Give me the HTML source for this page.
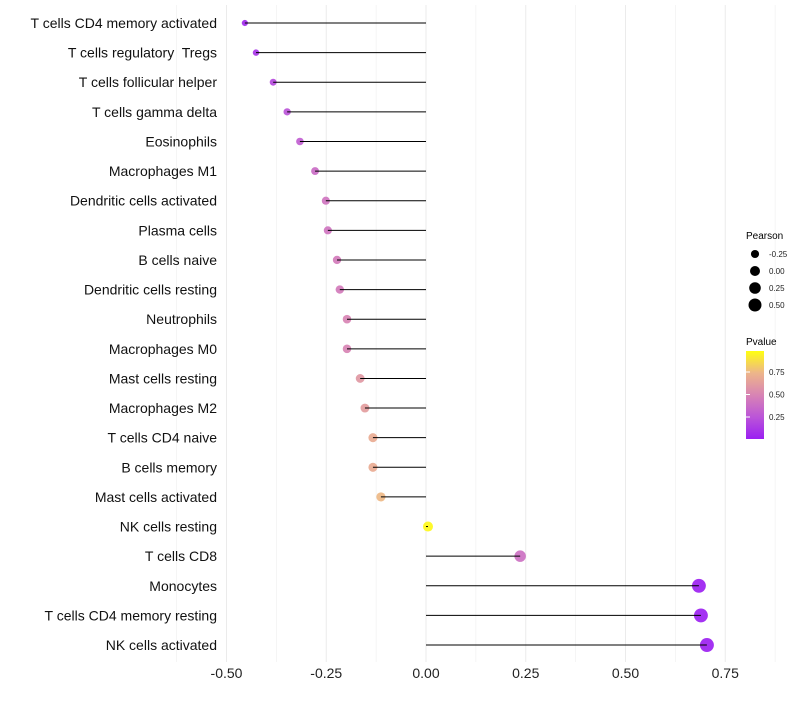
<!DOCTYPE html>
<html><head><meta charset="utf-8"><style>
body{margin:0;background:#fff;font-family:"Liberation Sans",sans-serif}
text{white-space:pre}
</style></head><body>
<svg id="chart" width="800" height="700" xmlns="http://www.w3.org/2000/svg" font-family="Liberation Sans, sans-serif">
<defs><linearGradient id="pg" x1="0" y1="1" x2="0" y2="0">
<stop offset="0" stop-color="#9B1FF2"/><stop offset="0.25" stop-color="#BB55D8"/><stop offset="0.5" stop-color="#D884B4"/><stop offset="0.75" stop-color="#EDB58A"/><stop offset="1" stop-color="#FFFF10"/></linearGradient></defs>
<g id="grid"></g><g id="dots"></g><g id="marks"></g><g id="axes"></g>
<g>
<text x="746" y="239" font-size="10">Pearson</text>
<text x="746" y="345" font-size="10">Pvalue</text>
<rect x="746" y="351" width="18" height="88" fill="url(#pg)"/>
</g>
</svg>
<script>
const cells=["T cells CD4 memory activated","T cells regulatory  Tregs","T cells follicular helper","T cells gamma delta","Eosinophils","Macrophages M1","Dendritic cells activated","Plasma cells","B cells naive","Dendritic cells resting","Neutrophils","Macrophages M0","Mast cells resting","Macrophages M2","T cells CD4 naive","B cells memory","Mast cells activated","NK cells resting","T cells CD8","Monocytes","T cells CD4 memory resting","NK cells activated"];
const pearson=[-0.454,-0.426,-0.383,-0.348,-0.316,-0.278,-0.251,-0.246,-0.223,-0.216,-0.198,-0.198,-0.165,-0.153,-0.133,-0.133,-0.113,0.005,0.236,0.684,0.689,0.704];
const pvalue=[0.05,0.1,0.2,0.25,0.3,0.38,0.42,0.42,0.45,0.45,0.5,0.5,0.6,0.63,0.7,0.7,0.76,0.98,0.4,0.01,0.01,0.01];
const xTicks=[-0.5,-0.25,0,0.25,0.5,0.75];
const xTickLabels=["-0.50","-0.25","0.00","0.25","0.50","0.75"];
const sizeLegend=[-0.25,0,0.25,0.5];
const sizeLegendLabels=["-0.25","0.00","0.25","0.50"];
const colorLegend=[0.25,0.5,0.75];
const NS="http://www.w3.org/2000/svg";
const X=v=>426+v*399;
const Y=i=>23+i*29.62;
const R=v=>Math.max(2,Math.sqrt(Math.max(0,25+34*v)));
const stops=[[0,[155,31,242]],[0.25,[187,85,216]],[0.5,[216,132,180]],[0.75,[237,181,138]],[1,[255,255,16]]];
function col(p){for(let k=0;k<stops.length-1;k++){const a=stops[k],b=stops[k+1];if(p<=b[0]){const t=(p-a[0])/(b[0]-a[0]);return"rgb("+a[1].map((c,j)=>Math.round(c+(b[1][j]-c)*t)).join(",")+")";}}return"rgb(255,255,16)";}
function mk(t,a,parent){const e=document.createElementNS(NS,t);for(const k in a)e.setAttribute(k,a[k]);parent.appendChild(e);return e;}
const grid=document.getElementById('grid'),dots=document.getElementById('dots'),marks=document.getElementById('marks'),axes=document.getElementById('axes'),svg=document.getElementById('chart');
for(let v=-0.625;v<=0.875;v+=0.125){const l=mk('line',{x1:X(v),x2:X(v),y1:5,y2:662,stroke:'#ebebeb','stroke-width':xTicks.some(t=>Math.abs(t-v)<1e-9)?1:0.5},grid);

}
xTicks.forEach((t,i)=>{const e=mk('text',{x:X(t),y:678,'font-size':14,'text-anchor':'middle',fill:'#222'},axes);e.textContent=xTickLabels[i];

});
cells.forEach((c,i)=>{const y=Y(i);
const lb=mk('text',{x:217,y:y+5,'font-size':14,'text-anchor':'end',fill:'#111'},axes);lb.textContent=c;


const pt=mk('circle',{cx:X(pearson[i]),cy:y,r:R(pearson[i]),fill:col(pvalue[i]),'fill-opacity':0.92},dots);


const ln=mk('line',{x1:X(0),x2:X(pearson[i]),y1:y,y2:y,stroke:'#000','stroke-width':1},marks);

});
sizeLegend.forEach((s,i)=>{const y=254+i*17;
const c=mk('circle',{cx:755,cy:y,r:R(s),fill:'#000'},svg);


const t=mk('text',{x:769,y:y+3,'font-size':8,fill:'#222'},svg);t.textContent=sizeLegendLabels[i];

});
colorLegend.forEach(v=>{const y=439.5-v*90;
const tk=mk('line',{x1:746,x2:750,y1:y,y2:y,stroke:'#fff','stroke-width':1},svg);


const t=mk('text',{x:769,y:y+3,'font-size':8,fill:'#222'},svg);t.textContent=v.toFixed(2);

});
</script>
</body></html>
